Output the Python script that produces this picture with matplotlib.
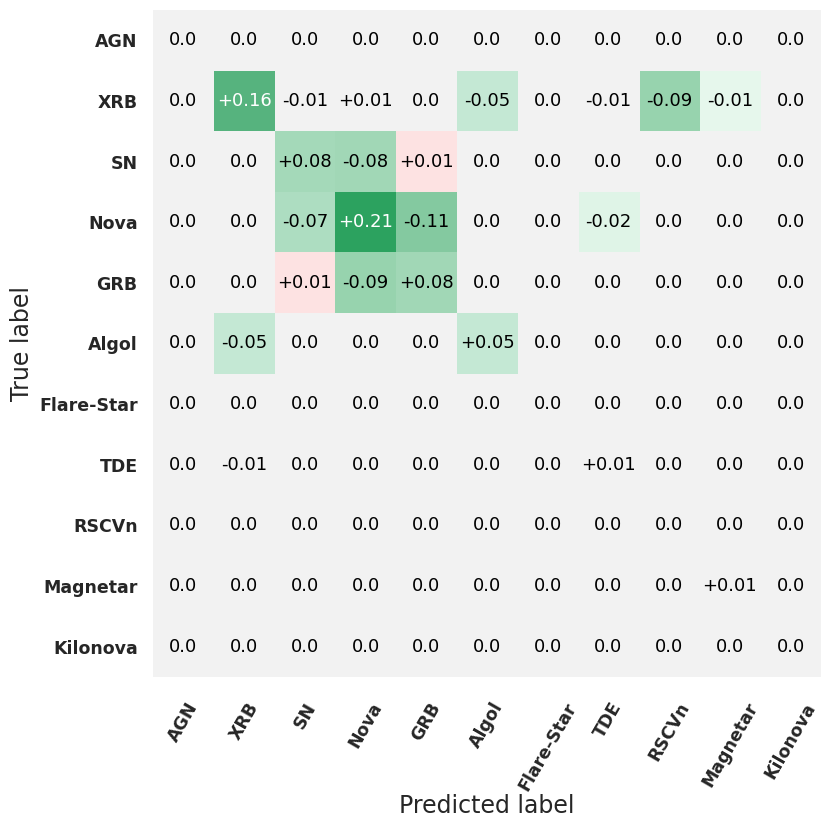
import numpy as np
import matplotlib
matplotlib.use("Agg")
import matplotlib.pyplot as plt
from matplotlib.colors import LinearSegmentedColormap

CLASSES = ["AGN", "XRB", "SN", "Nova", "GRB", "Algol", "Flare-Star",
           "TDE", "RSCVn", "Magnetar", "Kilonova"]

# change in normalised confusion matrix (rows = true, cols = predicted)
ROW_AGN = [0, 0, 0, 0, 0, 0, 0, 0, 0, 0, 0]
ROW_XRB = [0, 0.16, -0.006, 0.006, 0, -0.05, 0, -0.006, -0.09, -0.013, 0]
ROW_SN = [0, 0, 0.078, -0.081, 0.012, 0, 0, 0, 0, 0, 0]
ROW_NOVA = [0, 0, -0.07, 0.21, -0.11, 0, 0, -0.02, 0, 0, 0]
ROW_GRB = [0, 0, 0.012, -0.09, 0.081, 0, 0, 0, 0, 0, 0]
ROW_ALGOL = [0, -0.05, 0, 0, 0, 0.05, 0, 0, 0, 0, 0]
ROW_FLARE = [0, 0, 0, 0, 0, 0, 0, 0, 0, 0, 0]
ROW_TDE = [0, -0.006, 0, 0, 0, 0, 0, 0.006, 0, 0, 0]
ROW_RSCVN = [0, 0, 0, 0, 0, 0, 0, 0, 0, 0, 0]
ROW_MAGNETAR = [0, 0, 0, 0, 0, 0, 0, 0, 0, 0.006, 0]
ROW_KILONOVA = [0, 0, 0, 0, 0, 0, 0, 0, 0, 0, 0]

BG = "#f2f2f2"
VMAX = 0.21

# green scale stops (fraction of VMAX, colour)
GREEN_STOPS = [(0.0, "#f2fcf5"), (0.05 / VMAX, "#c4e8d4"),
               (0.09 / VMAX, "#97d3ae"), (0.16 / VMAX, "#57b47f"),
               (1.0, "#2ca25f")]


def build_matrix() -> np.ndarray:
    return np.array([ROW_AGN, ROW_XRB, ROW_SN, ROW_NOVA, ROW_GRB, ROW_ALGOL,
                     ROW_FLARE, ROW_TDE, ROW_RSCVN, ROW_MAGNETAR, ROW_KILONOVA])


def cell_colours(diff: np.ndarray):
    n = diff.shape[0]
    greens = LinearSegmentedColormap.from_list("g", GREEN_STOPS)
    reds = LinearSegmentedColormap.from_list("r", [BG, "#ffe0e0"])
    rgba = np.zeros((n, n, 4))
    dark = np.zeros((n, n), dtype=bool)
    # "good" change: diagonal up, off-diagonal down
    good = np.where(np.eye(n, dtype=bool), diff, -diff)
    for i in range(n):
        for j in range(n):
            s = good[i, j]
            if abs(diff[i, j]) < 0.01:
                continue
            if s > 0:
                t = min(1.0, s / VMAX)
                rgba[i, j] = greens(t)
                dark[i, j] = t > 0.6
            else:
                rgba[i, j] = reds(min(1.0, -s / 0.014))
    return rgba, dark


def main() -> None:
    diff = build_matrix()
    rgba, dark = cell_colours(diff)
    n = len(CLASSES)

    fig = plt.figure(figsize=(8.31, 8.26), dpi=100)
    ax = fig.add_axes([0.1841, 0.1804, 0.8039, 0.8075])
    ax.set_facecolor(BG)
    ax.imshow(rgba, aspect="auto", interpolation="nearest")

    for i in range(n):
        for j in range(n):
            v = diff[i, j]
            txt = "0.0" if v == 0 else f"{v:+.2f}"
            ax.text(j, i, txt, ha="center", va="center", fontsize=13,
                    color="white" if dark[i, j] else "black")

    ax.set_xticks(range(n))
    ax.set_yticks(range(n))
    ax.set_xticklabels(CLASSES, rotation=60, fontsize=12.5, fontweight="bold",
                       color="#262626")
    ax.set_yticklabels(CLASSES, fontsize=12.5, fontweight="bold", color="#262626")
    ax.tick_params(axis="x", length=0, pad=16)
    ax.tick_params(axis="y", length=0, pad=11)
    for sp in ax.spines.values():
        sp.set_visible(False)

    ax.set_xlabel("Predicted label", fontsize=17, color="#262626", labelpad=0)
    ax.set_ylabel("True label", fontsize=17, color="#262626", labelpad=4)

    fig.savefig("out.png", dpi=100)
    plt.close(fig)


if __name__ == "__main__":
    main()
